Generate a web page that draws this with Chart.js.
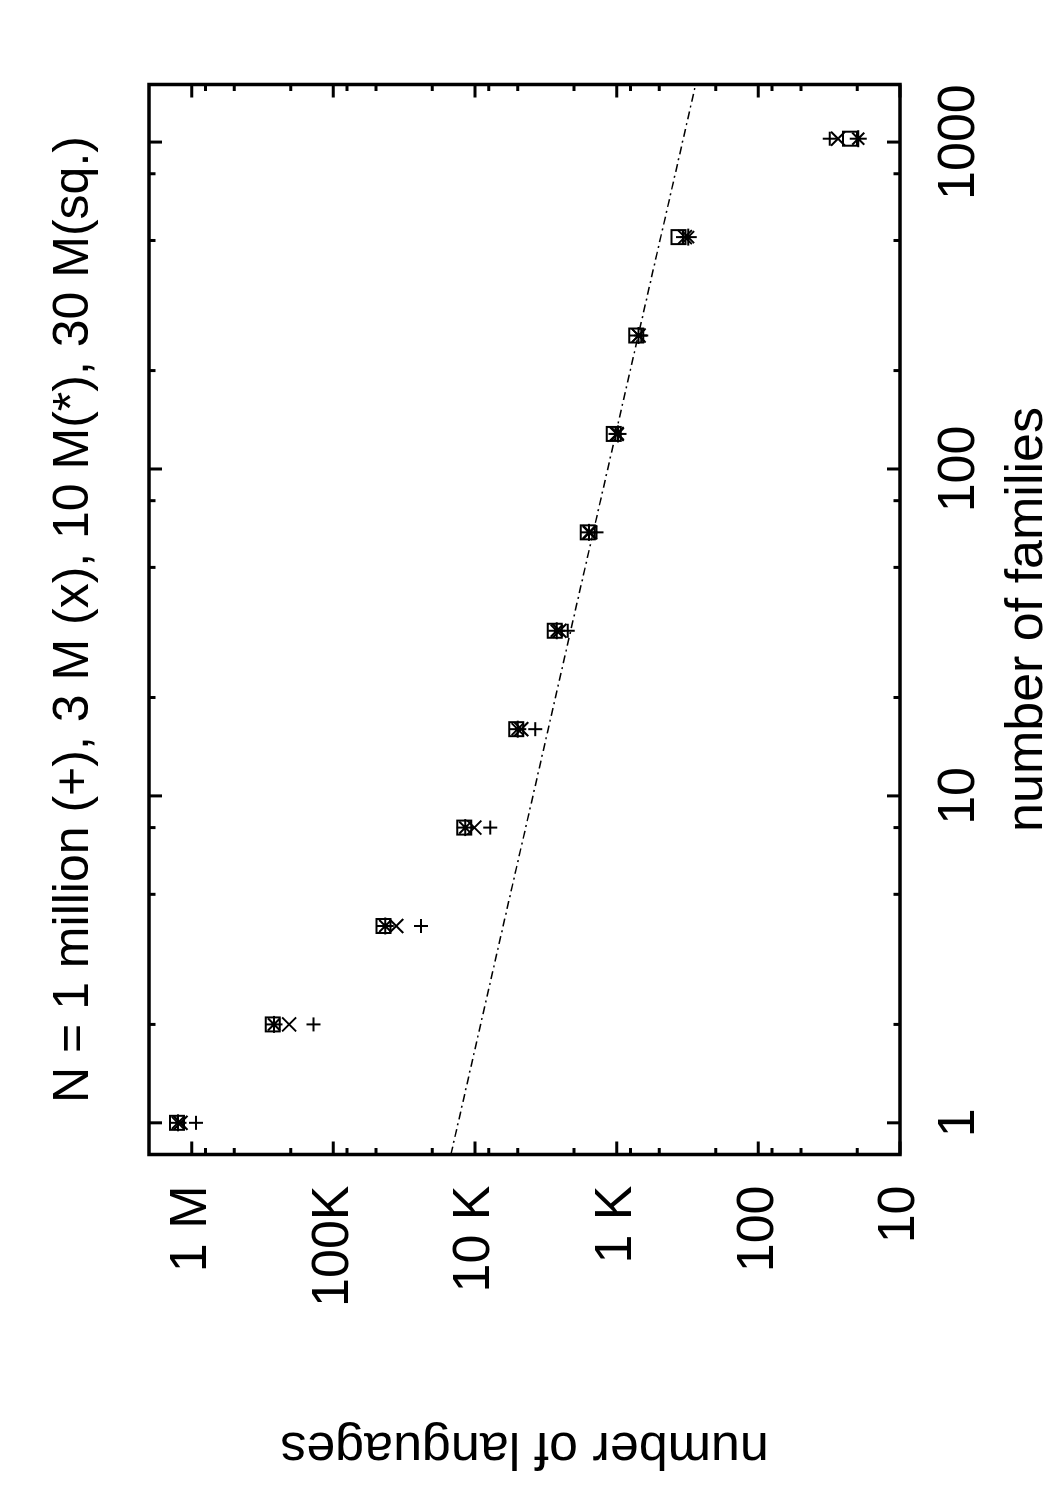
<!DOCTYPE html>
<html>
<head>
<meta charset="utf-8">
<script src="https://cdn.jsdelivr.net/npm/chart.js@4.4.1/dist/chart.umd.min.js"></script>
<style>
html, body { margin: 0; padding: 0; background: #fff; }
body { width: 1050px; height: 1500px; overflow: hidden; position: relative; }
/* the plot is landscape, printed turned on a portrait page */
#page { position: absolute; left: 0; top: 0; width: 1500px; height: 1050px;
        transform-origin: 0 0; transform: translate(0, 1500px) rotate(-90deg); }
#familyChart { display: block; }
</style>
</head>
<body>
<div id="page"><canvas id="familyChart" width="1500" height="1050"></canvas></div>
<script>
// number of families (x) and number of languages for each population size
const families = [1, 2, 4, 8, 16, 32, 64, 128, 256, 512, 1024];
const langs1M  = [930000, 138000, 24000, 7800, 3760, 2210, 1390, 1020, 670, 340, 31.3];
const langs3M  = [1200000, 205000, 36000, 10100, 4720, 2530, 1550, 1000, 700, 330, 27.4];
const langs10M = [1250000, 262000, 43000, 11700, 5000, 2650, 1570, 980, 700, 313, 19.7];
const langs30M = [1270000, 268000, 44200, 11900, 5120, 2730, 1600, 1050, 726, 366, 22.5];

// dash-dot power law line, read at both ends of the plot
const fitX = [0.8, 1500];
const fitY = [14800, 277];

const xMajorTicks = [1, 10, 100, 1000];
const xTickLabels = ['1', '10', '100', '1000'];
const xMinorTicks = [2, 5, 8, 20, 50, 80, 200, 500, 800];
const yMajorTicks = [10, 100, 1000, 10000, 100000, 1000000];
const yTickLabels = ['10', '100', '1 K', '10 K', '100K', '1 M'];
const yMinorTicks = [20, 50, 80, 200, 500, 800, 2000, 5000, 8000,
                     20000, 50000, 80000, 200000, 500000, 800000];

const FONT = "'Liberation Sans', Arial, Helvetica, sans-serif";

function points(ys) {
    return families.map(function (f, i) { return { x: f, y: ys[i] }; });
}

function markSet(label, ys, style, radius) {
    return {
        label: label,
        data: points(ys),
        showLine: false,
        pointStyle: style,
        pointRadius: radius,
        pointBorderWidth: 2,
        pointBorderColor: '#000',
        pointBackgroundColor: 'rgba(0,0,0,0)'
    };
}

// gnuplot style frame with inward ticks on all four sides
const frameTicks = {
    id: 'frameTicks',
    afterDatasetsDraw(chart) {
        const ctx = chart.ctx;
        const a = chart.chartArea;
        const x = chart.scales.x;
        const y = chart.scales.y;
        ctx.save();
        ctx.strokeStyle = '#000';
        ctx.lineWidth = 3;
        ctx.beginPath();
        x.ticks.forEach(function (t) {
            const px = x.getPixelForValue(t.value);
            const len = xMajorTicks.includes(t.value) ? 13 : 6.5;
            ctx.moveTo(px, a.bottom); ctx.lineTo(px, a.bottom - len);
            ctx.moveTo(px, a.top); ctx.lineTo(px, a.top + len);
        });
        y.ticks.forEach(function (t) {
            const py = y.getPixelForValue(t.value);
            const len = yMajorTicks.includes(t.value) ? 13 : 6.5;
            ctx.moveTo(a.left, py); ctx.lineTo(a.left + len, py);
            ctx.moveTo(a.right, py); ctx.lineTo(a.right - len, py);
        });
        ctx.stroke();
        ctx.lineWidth = 3.5;
        ctx.strokeRect(a.left, a.top, a.right - a.left, a.bottom - a.top);
        ctx.restore();
    }
};

const ctx = document.getElementById('familyChart').getContext('2d');
new Chart(ctx, {
    type: 'scatter',
    data: {
        datasets: [
            markSet('N = 1 M', langs1M, 'cross', 7),
            markSet('N = 3 M', langs3M, 'crossRot', 9.9),
            markSet('N = 10 M', langs10M, 'star', 8.5),
            markSet('N = 30 M', langs30M, 'rect', 9.9),
            {
                label: 'fit',
                data: fitX.map(function (v, i) { return { x: v, y: fitY[i] }; }),
                showLine: true,
                borderColor: '#000',
                borderWidth: 1.5,
                borderDash: [8, 4, 2, 4],
                pointRadius: 0,
                fill: false
            }
        ]
    },
    options: {
        responsive: false,
        devicePixelRatio: 1,
        animation: false,
        layout: { padding: { left: 0, right: 84.5, top: 0, bottom: 0 } },
        plugins: {
            legend: { display: false },
            tooltip: { enabled: false },
            title: {
                display: true,
                fullSize: false,
                text: 'N = 1 million (+), 3 M (x), 10 M(*), 30 M(sq.)',
                color: '#000',
                font: { family: FONT, size: 50, weight: 'normal', lineHeight: 1.2 },
                padding: { top: 44.4, bottom: 44.6 }
            }
        },
        scales: {
            x: {
                type: 'logarithmic',
                min: 0.8,
                max: 1500,
                afterBuildTicks: function (s) {
                    s.ticks = xMajorTicks.concat(xMinorTicks)
                        .sort(function (a, b) { return a - b; })
                        .map(function (v) { return { value: v }; });
                },
                afterFit: function (s) { s.height = 150; },
                grid: { display: false, drawTicks: false },
                border: { display: false },
                ticks: {
                    autoSkip: false,
                    maxRotation: 0,
                    padding: 28,
                    color: '#000',
                    font: { family: FONT, size: 52 },
                    callback: function (v) {
                        const i = xMajorTicks.indexOf(v);
                        return i >= 0 ? xTickLabels[i] : '';
                    }
                },
                title: {
                    display: true,
                    text: 'number of families',
                    color: '#000',
                    font: { family: FONT, size: 52, lineHeight: 0.8 },
                    padding: { top: 0, bottom: 2 }
                }
            },
            y: {
                type: 'logarithmic',
                min: 10,
                max: 2000000,
                afterBuildTicks: function (s) {
                    s.ticks = yMajorTicks.concat(yMinorTicks)
                        .sort(function (a, b) { return a - b; })
                        .map(function (v) { return { value: v }; });
                },
                afterFit: function (s) { s.width = 345.5; },
                grid: { display: false, drawTicks: false },
                border: { display: false },
                ticks: {
                    autoSkip: false,
                    padding: 31,
                    color: '#000',
                    font: { family: FONT, size: 52 },
                    callback: function (v) {
                        const i = yMajorTicks.indexOf(v);
                        return i >= 0 ? yTickLabels[i] : '';
                    }
                },
                title: {
                    display: true,
                    text: 'number of languages',
                    color: '#000',
                    font: { family: FONT, size: 52, lineHeight: 1.2 },
                    padding: { top: 21, bottom: 0 }
                }
            }
        }
    },
    plugins: [frameTicks]
});
</script>
</body>
</html>
